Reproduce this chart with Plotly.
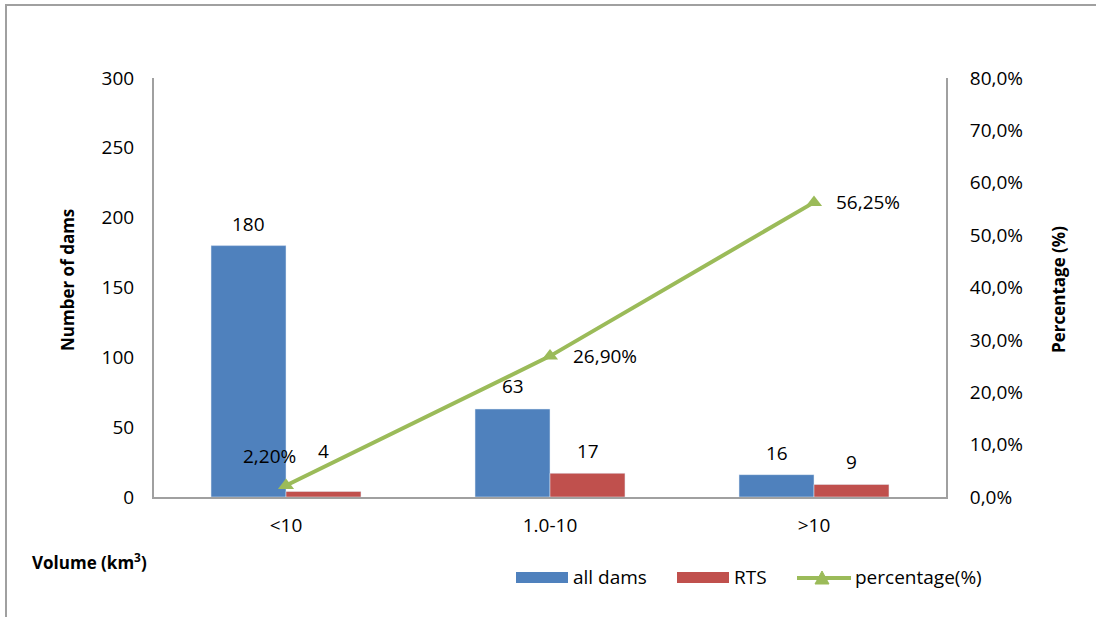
import plotly.graph_objects as go

# Chart data
categories = ["<10", "1.0-10", ">10"]
all_dams = [180, 63, 16]
rts = [4, 17, 9]
percentage = [2.20, 26.90, 56.25]  # percent
pct_ticks = [0, 10, 20, 30, 40, 50, 60, 70, 80]

FONT = "Open Sans"
BLUE = "#4F81BD"
RED = "#C0504D"
GREEN = "#9BBB59"
AXIS = "#A0A0A0"
LBL = 19
TITLE = 17

# plot area geometry in pixels
W, H = 1096, 617
L, R, T, B = 154, 150, 78, 120
pw, ph = W - L - R, H - T - B


def px_to_paper(x, y):
    return (x - L) / pw, (H - B - y) / ph


fig = go.Figure()
fig.add_trace(go.Bar(x=categories, y=all_dams, name="all dams",
                     marker_color=BLUE, offsetgroup="a"))
fig.add_trace(go.Bar(x=categories, y=rts, name="RTS",
                     marker_color=RED, offsetgroup="b"))
fig.add_trace(go.Scatter(x=categories, y=percentage, name="percentage(%)",
                         yaxis="y2", mode="lines+markers",
                         line=dict(color=GREEN, width=4),
                         marker=dict(symbol="triangle-up", size=14, color=GREEN)))

annotations = []
half = 75 / 2  # half a bar width in px
bar_lift = [[22, 23, 22], [40, 22, 22]]
for i, c in enumerate(categories):
    annotations.append(dict(x=c, y=all_dams[i], xref="x", yref="y",
                            text=str(all_dams[i]), showarrow=False,
                            xshift=-half, yshift=bar_lift[0][i]))
    annotations.append(dict(x=c, y=rts[i], xref="x", yref="y",
                            text=str(rts[i]), showarrow=False,
                            xshift=half, yshift=bar_lift[1][i]))

pct_shift = [(-17, 29), (55, 0), (54, 0)]
for i, c in enumerate(categories):
    annotations.append(dict(x=c, y=percentage[i], xref="x", yref="y2",
                            text=f"{percentage[i]:.2f}".replace(".", ",") + "%",
                            showarrow=False,
                            xshift=pct_shift[i][0], yshift=pct_shift[i][1]))

# axis titles
ax, ay = px_to_paper(67, 280)
annotations.append(dict(x=ax, y=ay, xref="paper", yref="paper",
                        xanchor="center", yanchor="middle",
                        text="<b>Number of dams</b>", textangle=-90,
                        showarrow=False, font=dict(size=TITLE)))
ax, ay = px_to_paper(1058, 290)
annotations.append(dict(x=ax, y=ay, xref="paper", yref="paper",
                        xanchor="center", yanchor="middle",
                        text="<b>Percentage (%)</b>", textangle=-90,
                        showarrow=False, font=dict(size=TITLE)))
ax, ay = px_to_paper(30, 561)
annotations.append(dict(x=ax, y=ay, xref="paper", yref="paper",
                        xanchor="left", yanchor="middle",
                        text="<b>Volume (km<sup>3</sup>)</b>",
                        showarrow=False, font=dict(size=TITLE)))

# frame on the left and top edges
x0, y0 = px_to_paper(6, H + 5)
x1, y1 = px_to_paper(W + 5, 5)
shapes = [dict(type="path", xref="paper", yref="paper",
               path=f"M {x0},{y0} L {x0},{y1} L {x1},{y1}",
               line=dict(color=AXIS, width=2))]

# legend row below the plot
LEG_Y = 577


def rect(xa, xb, ya, yb, color):
    a, b = px_to_paper(xa, ya)
    c, d = px_to_paper(xb, yb)
    return dict(type="rect", xref="paper", yref="paper", x0=a, x1=c, y0=b, y1=d,
                fillcolor=color, line=dict(width=0))


def legend_text(x, text):
    a, b = px_to_paper(x, LEG_Y)
    return dict(x=a, y=b, xref="paper", yref="paper", xanchor="left",
                yanchor="middle", text=text, showarrow=False,
                font=dict(size=LBL))


shapes.append(rect(516, 568, 572, 583, BLUE))
annotations.append(legend_text(571, "all dams"))
shapes.append(rect(677, 729, 572, 583, RED))
annotations.append(legend_text(732, "RTS"))
la, lb = px_to_paper(797, 578)
lc, _ = px_to_paper(851, 578)
shapes.append(dict(type="line", xref="paper", yref="paper", x0=la, x1=lc,
                   y0=lb, y1=lb, line=dict(color=GREEN, width=4)))
ta = px_to_paper(815, 584)
tb = px_to_paper(829, 584)
tc = px_to_paper(822, 571)
shapes.append(dict(type="path", xref="paper", yref="paper",
                   path=f"M {ta[0]},{ta[1]} L {tb[0]},{tb[1]} L {tc[0]},{tc[1]} Z",
                   fillcolor=GREEN, line=dict(color=GREEN, width=1)))
annotations.append(legend_text(853, "percentage(%)"))

fig.update_layout(
    width=W, height=H,
    margin=dict(l=L, r=R, t=T, b=B, pad=0),
    paper_bgcolor="white", plot_bgcolor="white",
    font=dict(family=FONT, size=LBL, color="#000000"),
    barmode="group", bargap=0.432, bargroupgap=0,
    showlegend=False,
    xaxis=dict(showline=True, linecolor=AXIS, linewidth=2, ticks="",
               showgrid=False, ticklabelstandoff=10),
    yaxis=dict(range=[0, 300], tickvals=[0, 50, 100, 150, 200, 250, 300],
               showline=True, linecolor=AXIS, linewidth=2, showgrid=False,
               zeroline=False, ticks="", ticklabelstandoff=14),
    yaxis2=dict(range=[0, 80], overlaying="y", side="right",
                tickvals=pct_ticks,
                ticktext=[f"{v:.1f}".replace(".", ",") + "%" for v in pct_ticks],
                showline=True, linecolor=AXIS, linewidth=2, showgrid=False,
                zeroline=False, ticks="", ticklabelstandoff=18),
    annotations=annotations,
    shapes=shapes,
)

fig.write_html("out.html")
